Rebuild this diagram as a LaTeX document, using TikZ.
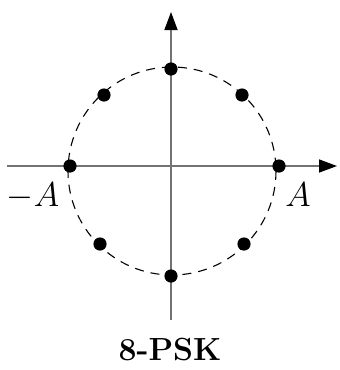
\documentclass[tikz,border=0pt]{standalone}
\usetikzlibrary{arrows.meta}
\begin{document}
\begin{tikzpicture}[x=0.5pt,y=-0.5pt,
  axis/.style={draw=black!55,line width=0.75pt,-{Triangle[length=9pt,width=6.5pt,black]}},
  circ/.style={draw=black,line width=0.55pt,dash pattern=on 4.5pt off 3.5pt},
  pt/.style={circle,fill=black,inner sep=0pt,minimum size=6.6pt},
  lab/.style={inner sep=0pt,font=\fontsize{16}{19}\selectfont}]
\useasboundingbox (0,0) rectangle (339,370);
\coordinate (xl) at (7,166);
\coordinate (xr) at (337,166);
\coordinate (yb) at (171,320);
\coordinate (yt) at (171,12);
\draw[circ] (172,171) ellipse [x radius=104, y radius=104];
\draw[axis] (xl) -- (xr);
\draw[axis] (yb) -- (yt);
\node[pt] (p0) at (279,166) {};
\node[pt] (p1) at (242,95) {};
\node[pt] (p2) at (171,69) {};
\node[pt] (p3) at (104,95) {};
\node[pt] (p4) at (70,166) {};
\node[pt] (p5) at (100,244) {};
\node[pt] (p6) at (171,276) {};
\node[pt] (p7) at (244,244) {};
\node[lab,anchor=base] (lm) at (33,206) {$-A$};
\node[lab,anchor=base] (lp) at (298,206) {$A$};
\node[lab,anchor=base,font=\fontsize{16}{19}\selectfont\bfseries] (title) at (170,360) {8-PSK};
\end{tikzpicture}
\end{document}
